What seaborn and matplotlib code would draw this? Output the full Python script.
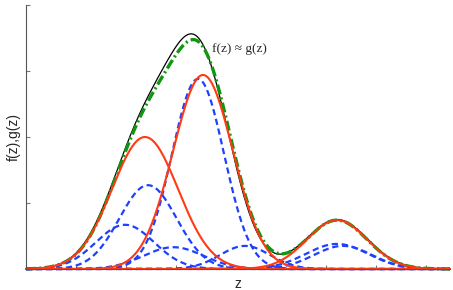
import numpy as np
import pandas as pd
import matplotlib
matplotlib.use("Agg")
import matplotlib.pyplot as plt
import seaborn as sns

# target density f(z): three bumps (mean, width, height)
f_means = [2.36, 3.50, 6.22]
f_sigmas = [0.66, 0.60, 0.61]
f_heights = [2.00, 3.00, 0.75]

# components of the approximation g(z) (red)
g_means = [2.38, 3.54, 6.22]
g_sigmas = [0.66, 0.60, 0.60]
g_heights = [2.00, 2.94, 0.74]

# sub-components (blue dashed)
b_means = [2.44, 1.98, 3.44, 2.95, 4.38, 6.22, 6.34]
b_sigmas = [0.57, 0.58, 0.52, 0.60, 0.50, 0.62, 0.58]
b_heights = [1.27, 0.67, 2.88, 0.33, 0.35, 0.38, 0.35]

z_max = 8.48
label_text = "f(z) \u2248 g(z)"


def bump(z, m, s, h):
    return h * np.exp(-(z - m) ** 2 / (2 * s ** 2))


def main():
    sns.set_style("ticks")
    z = np.linspace(0, z_max, 800)

    f = sum(bump(z, m, s, h) for m, s, h in zip(f_means, f_sigmas, f_heights))
    reds = [bump(z, m, s, h) for m, s, h in zip(g_means, g_sigmas, g_heights)]
    g = sum(reds)
    blues = [bump(z, m, s, h) for m, s, h in zip(b_means, b_sigmas, b_heights)]

    fig = plt.figure(figsize=(4.53, 2.90), dpi=100)
    ax = fig.add_axes([26 / 453, 21 / 290, 424 / 453, 264 / 290])

    sns.lineplot(x=z, y=f, ax=ax, color="black", lw=0.9, clip_on=False)
    sns.lineplot(x=z, y=g, ax=ax, color="#119611", lw=2.4,
                 linestyle=(0, (3.0, 1.0, 0.6, 1.0)), clip_on=False)
    for b in blues:
        sns.lineplot(x=z, y=b, ax=ax, color="#1e40ff", lw=1.6,
                     linestyle=(0, (2.8, 1.7)), clip_on=False)
    for r in reds:
        sns.lineplot(x=z, y=r, ax=ax, color="#ff3a14", lw=1.5, clip_on=False)

    ax.text(3.72, 3.34, label_text, ha="left", va="center", fontsize=9.5,
            family=["Liberation Serif", "DejaVu Serif"])

    ax.set_xlim(0, z_max)
    ax.set_ylim(0, 4)
    ax.set_xticks(range(0, 9))
    ax.set_yticks(range(0, 5))
    ax.tick_params(direction="in", length=3, color="#777777",
                   labelleft=False, labelbottom=False)
    for side in ["left", "bottom"]:
        ax.spines[side].set_color("#555555")
        ax.spines[side].set_linewidth(0.8)
    sns.despine(ax=ax)

    ax.set_xlabel("z", fontsize=10, family=["Liberation Sans", "DejaVu Sans"], labelpad=6)
    ax.set_ylabel("f(z),g(z)", fontsize=10, family=["Liberation Sans", "DejaVu Sans"], labelpad=4)

    fig.savefig("out.png", dpi=100)


if __name__ == "__main__":
    main()
